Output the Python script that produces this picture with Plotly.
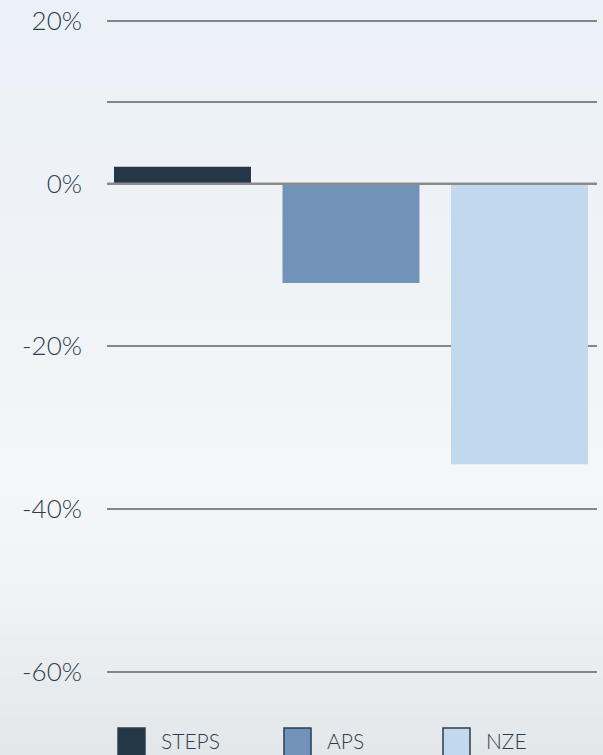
import plotly.graph_objects as go

# Scenario results (% change)
scenarios = ["STEPS", "APS", "NZE"]
values = [2.1, -12.2, -34.5]
colors = ["#243746", "#7193b9", "#c2d8ec"]

tick_vals = [20, 10, 0, -20, -40, -60]
tick_text = ["20%", "", "0%", "-20%", "-40%", "-60%"]

W, H = 603, 755
M_L, M_R, M_T, M_B = 107, 6, 0, 55
plot_h = H - M_T - M_B

fig = go.Figure()
fig.add_trace(go.Bar(
    x=scenarios, y=values,
    marker=dict(color=colors, line=dict(width=0)),
    showlegend=False, hoverinfo="skip",
))

# Soft sky-like background built from thin horizontal bands
stops = [
    (0.00, (236, 241, 247)),
    (0.25, (238, 242, 247)),
    (0.45, (241, 243, 246)),
    (0.62, (245, 246, 247)),
    (0.75, (243, 244, 246)),
    (0.88, (234, 237, 240)),
    (1.00, (228, 231, 234)),
]

def col_at(t):
    for (t0, c0), (t1, c1) in zip(stops[:-1], stops[1:]):
        if t0 <= t <= t1:
            f = (t - t0) / (t1 - t0) if t1 > t0 else 0
            return "rgb(%d,%d,%d)" % tuple(round(a + (b - a) * f) for a, b in zip(c0, c1))
    return "rgb(%d,%d,%d)" % stops[-1][1]

shapes = []
n_bands = 76
for i in range(n_bands):
    py0 = H * i / n_bands
    py1 = H * (i + 1) / n_bands + 1
    shapes.append(dict(
        type="rect", xref="paper", yref="paper", layer="below",
        x0=-M_L / (W - M_L - M_R) - 0.01, x1=1 + M_R / (W - M_L - M_R) + 0.01,
        y0=(plot_h - py1) / plot_h, y1=(plot_h - py0) / plot_h,
        line=dict(width=0), fillcolor=col_at((i + 0.5) / n_bands),
    ))

# Zero line on top of the bars
shapes.append(dict(
    type="line", xref="paper", yref="y", x0=0, x1=1, y0=0, y1=0,
    line=dict(color="#8c8c8c", width=2.5), layer="above",
))

# Legend: swatches and labels
plot_w = W - M_L - M_R
legend_sw_x = [118, 284, 443]
legend_tx_x = [159, 325, 484]
sw_top, sw_bot, txt_mid = 728, 757, 740
annotations = []
for name, c, sx, tx in zip(scenarios, colors, legend_sw_x, legend_tx_x):
    shapes.append(dict(
        type="rect", xref="paper", yref="paper", layer="above",
        x0=(sx - M_L) / plot_w, x1=(sx + 27 - M_L) / plot_w,
        y0=(plot_h - sw_bot) / plot_h, y1=(plot_h - sw_top) / plot_h,
        fillcolor=c, line=dict(color="#2b3e50", width=1.5),
    ))
    annotations.append(dict(
        xref="paper", yref="paper", x=(tx - M_L) / plot_w,
        y=(plot_h - txt_mid) / plot_h, xanchor="left", yanchor="middle",
        text=name, showarrow=False,
        font=dict(family="Lato", size=21, color="#2b3e50", weight=300),
    ))

fig.update_layout(
    width=W, height=H,
    margin=dict(l=M_L, r=M_R, t=M_T, b=M_B),
    paper_bgcolor="#eef1f5", plot_bgcolor="rgba(0,0,0,0)",
    bargap=0.187,
    shapes=shapes, annotations=annotations,
    showlegend=False,
)
fig.update_xaxes(
    type="category", range=[-0.448, 2.46],
    showticklabels=False, showgrid=False, zeroline=False, showline=False,
)
fig.update_yaxes(
    range=[-63.5, 22.6],
    tickvals=tick_vals, ticktext=tick_text,
    showgrid=True, gridcolor="#868686", gridwidth=1.5,
    zeroline=False, showline=False,
    ticklabelstandoff=24,
    tickfont=dict(family="Lato", size=26, color="#2c3e4f", weight=300),
)

fig.write_html("out.html")
